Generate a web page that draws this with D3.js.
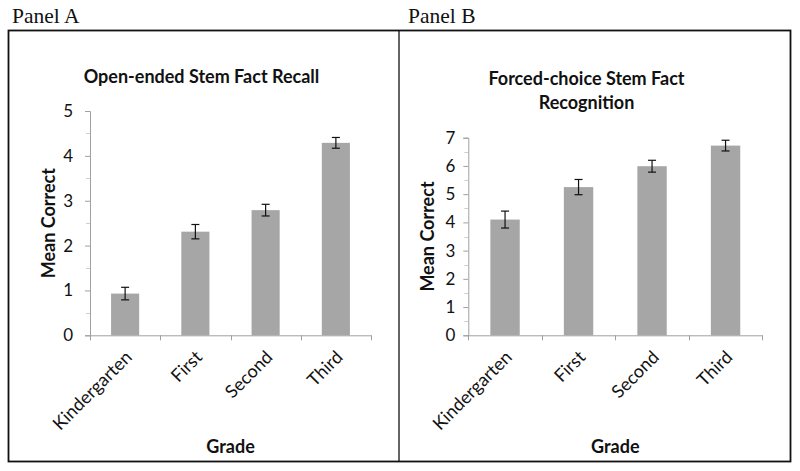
<!DOCTYPE html>
<html>
<head>
<meta charset="utf-8">
<script src="https://cdn.jsdelivr.net/npm/d3@7"></script>
<style>
  html, body { margin: 0; padding: 0; background: #fff; }
  svg { display: block; }
</style>
</head>
<body>
<svg id="chart" width="800" height="471"></svg>
<script>
const grades = ["Kindergarten", "First", "Second", "Third"];
const recallMeans = [0.93, 2.31, 2.79, 4.29];
const recallErrors = [0.14, 0.16, 0.13, 0.12];
const recogMeans = [4.10, 5.25, 5.99, 6.72];
const recogErrors = [0.30, 0.27, 0.21, 0.19];
const recallTicks = [0, 1, 2, 3, 4, 5];
const recogTicks = [0, 1, 2, 3, 4, 5, 6, 7];
const panelLabels = ["Panel A", "Panel B"];
const titlesA = ["Open-ended Stem Fact Recall"];
const titlesB = ["Forced-choice Stem Fact", "Recognition"];
const yTitle = "Mean Correct";
const xTitle = "Grade";

const svg = d3.select("#chart");
const SANS = "Lato, 'Open Sans', sans-serif";

// Outer frame
svg.append("rect").attr("x", 8.5).attr("y", 30.5).attr("width", 782).attr("height", 431)
  .attr("fill", "none").attr("stroke", "#111").attr("stroke-width", 1.8);
svg.append("line").attr("x1", 399).attr("x2", 399).attr("y1", 30.5).attr("y2", 461.5)
  .attr("stroke", "#111").attr("stroke-width", 1.3);

svg.selectAll("text.panel").data(panelLabels).enter().append("text")
  .attr("class", "panel")
  .attr("x", (d, i) => i === 0 ? 12 : 408)
  .attr("y", 23)
  .attr("font-family", "'Liberation Serif', 'Times New Roman', serif")
  .attr("font-size", 21.5)
  .attr("fill", "#111")
  .text(d => d);

function drawPanel(opt) {
  const g = svg.append("g");
  const x = d3.scaleBand().domain(grades).range([opt.x0, opt.x1]).paddingInner(0).paddingOuter(0);
  const y = d3.scaleLinear().domain([0, opt.max]).range([335.3, opt.yTop]);
  const axisColor = "#a0a0a0";

  // title
  opt.titles.forEach((t, i) => {
    g.append("text").attr("x", opt.titleX).attr("y", opt.titleY + i * 24)
      .attr("text-anchor", "middle").attr("font-family", SANS).attr("font-weight", "bold")
      .attr("font-size", 18).attr("fill", "#111").text(t);
  });

  // minor ticks
  const minor = d3.range(0.5, opt.max, 1);
  g.selectAll("line.minor").data(minor).enter().append("line")
    .attr("x1", opt.x0 - 4).attr("x2", opt.x0)
    .attr("y1", d => Math.round(y(d)) + 0.5).attr("y2", d => Math.round(y(d)) + 0.5)
    .attr("stroke", "#cfcfcf").attr("stroke-width", 1);

  // y axis
  const yAxis = d3.axisLeft(y).tickValues(opt.ticks).tickSize(5).tickPadding(opt.pad).tickFormat(d3.format("d"));
  const ya = g.append("g").attr("transform", `translate(${opt.x0},0)`).call(yAxis);
  ya.select(".domain").attr("stroke", axisColor);
  ya.selectAll(".tick line").attr("stroke", axisColor);
  ya.selectAll(".tick text").attr("font-family", SANS).attr("font-size", 17).attr("fill", "#111");

  // bars
  const bw = x.bandwidth() * 0.4;
  g.selectAll("rect.bar").data(opt.means).enter().append("rect")
    .attr("x", (d, i) => x(grades[i]) + (x.bandwidth() - bw) / 2)
    .attr("width", bw)
    .attr("y", d => y(d))
    .attr("height", d => y(0) - y(d))
    .attr("fill", "#a6a6a6");

  // x axis
  const xa = g.append("g").attr("transform", `translate(0,${y(0)})`)
    .call(d3.axisBottom(x).tickSize(0).tickFormat(""));
  xa.select(".domain").attr("stroke", axisColor);
  xa.selectAll(".tick").remove();
  const bounds = grades.map(d => x(d)).concat([opt.x1]);
  g.selectAll("line.xt").data(bounds).enter().append("line")
    .attr("x1", d => Math.round(d) + 0.5).attr("x2", d => Math.round(d) + 0.5)
    .attr("y1", y(0)).attr("y2", y(0) + 5)
    .attr("stroke", axisColor);

  // error bars
  const eb = g.selectAll("g.err").data(opt.means).enter().append("g");
  eb.each(function(d, i) {
    const cx = x(grades[i]) + x.bandwidth() / 2;
    const top = y(d + opt.errs[i]), bot = y(d - opt.errs[i]);
    const s = d3.select(this);
    s.append("line").attr("x1", cx).attr("x2", cx).attr("y1", top).attr("y2", bot).attr("stroke", "#111").attr("stroke-width", 1.2);
    s.append("line").attr("x1", cx - 4).attr("x2", cx + 4).attr("y1", top).attr("y2", top).attr("stroke", "#111").attr("stroke-width", 1.2);
    s.append("line").attr("x1", cx - 4).attr("x2", cx + 4).attr("y1", bot).attr("y2", bot).attr("stroke", "#111").attr("stroke-width", 1.2);
  });

  // x labels rotated
  g.selectAll("text.xl").data(grades).enter().append("text")
    .attr("transform", d => `translate(${x(d) + x.bandwidth() / 2 + 8},${y(0) + 23}) rotate(-45)`)
    .attr("text-anchor", "end")
    .attr("font-family", SANS).attr("font-size", 18).attr("fill", "#111")
    .text(d => d);

  // axis titles
  g.append("text").attr("x", (opt.x0 + opt.x1) / 2).attr("y", 453)
    .attr("text-anchor", "middle").attr("font-family", SANS).attr("font-weight", "bold")
    .attr("font-size", 18).attr("fill", "#111").text(xTitle);
  g.append("text").attr("transform", `translate(${opt.yLabelX},${(y(0) + y(opt.max)) / 2}) rotate(-90)`)
    .attr("text-anchor", "middle").attr("font-family", SANS).attr("font-weight", "bold")
    .attr("font-size", 18).attr("fill", "#111").text(yTitle);
}

drawPanel({ x0: 90, x1: 371, yTop: 111, max: 5, ticks: recallTicks, means: recallMeans, errs: recallErrors,
  titles: titlesA, titleX: 201.5, titleY: 83, yLabelX: 55, pad: 12 });
drawPanel({ x0: 468.3, x1: 762.3, yTop: 137.7, max: 7, ticks: recogTicks, means: recogMeans, errs: recogErrors,
  titles: titlesB, titleX: 586.5, titleY: 85, yLabelX: 434, pad: 8 });
</script>
</body>
</html>
